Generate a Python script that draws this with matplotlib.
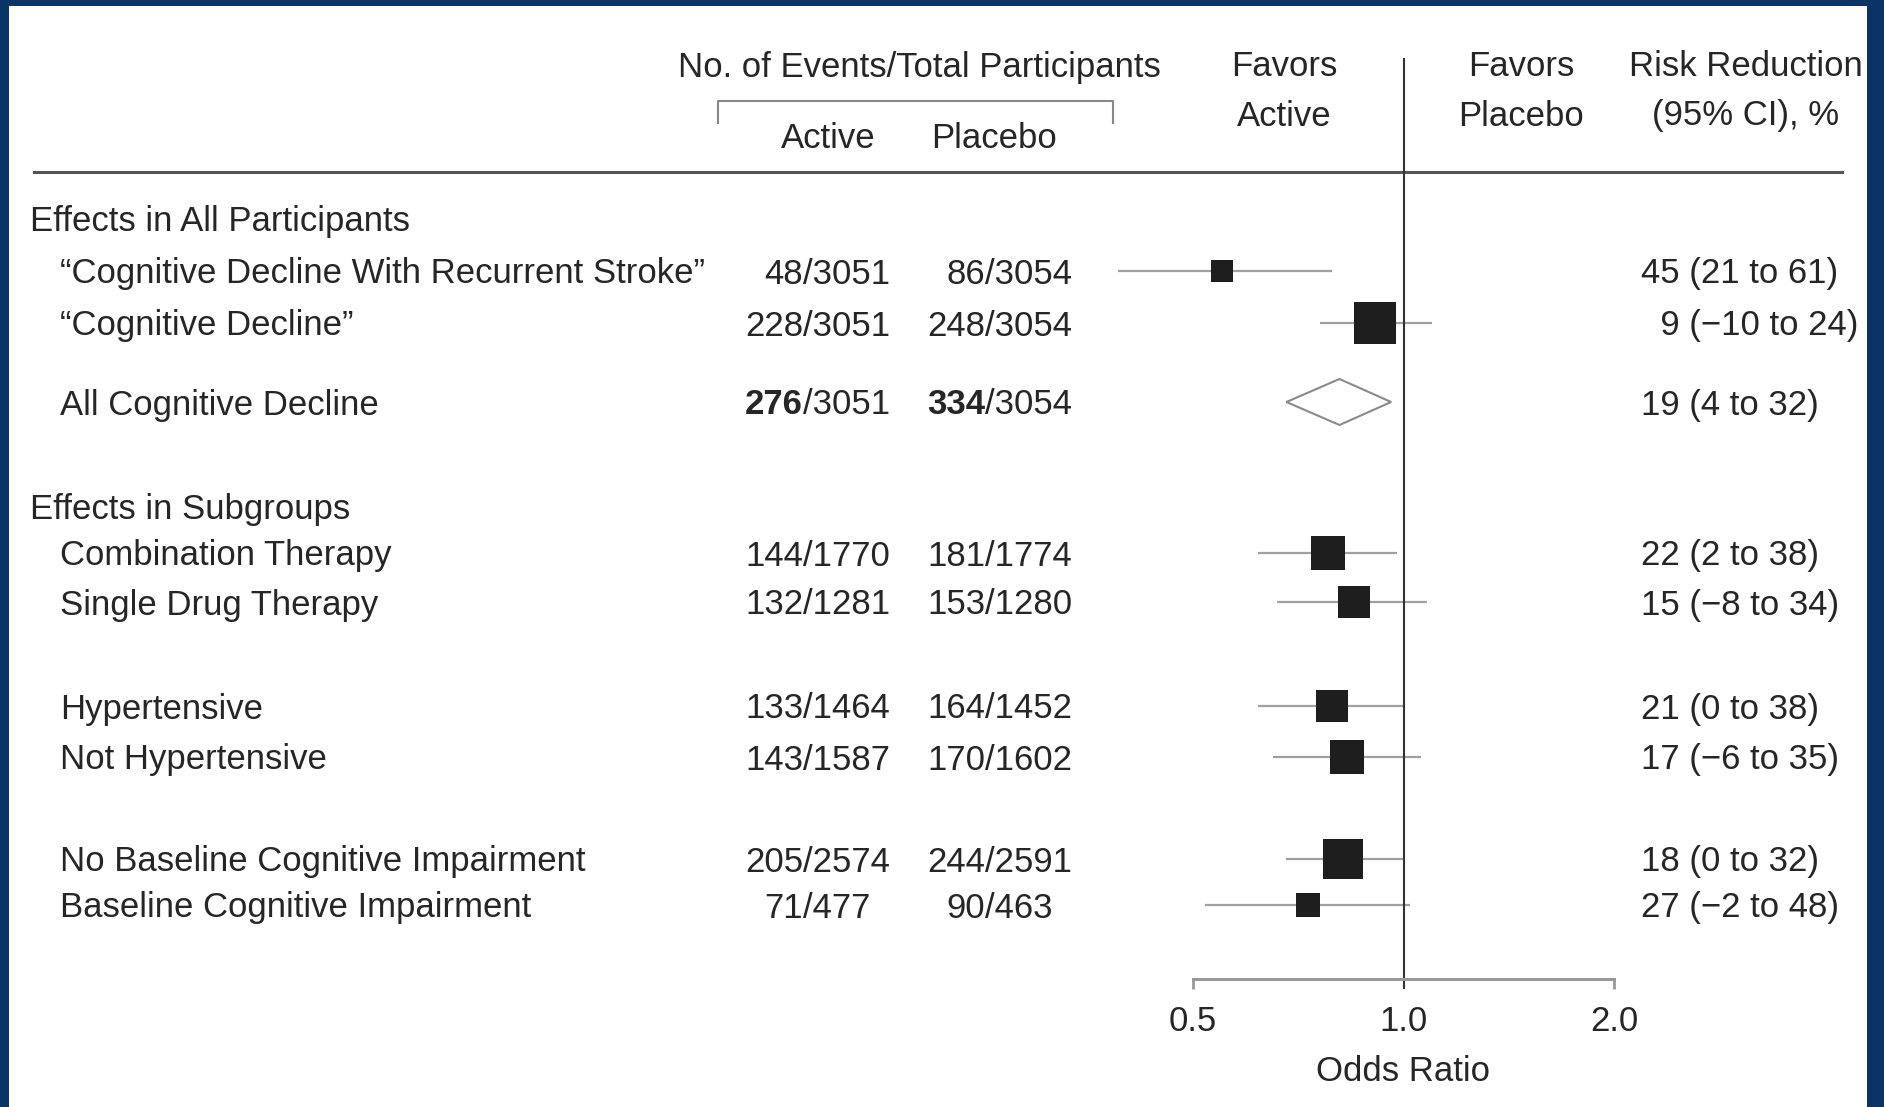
import matplotlib
matplotlib.use("Agg")
import matplotlib.pyplot as plt
from matplotlib.patches import Rectangle
from matplotlib.ticker import NullLocator

plt.rcParams['font.family'] = ['Liberation Sans', 'DejaVu Sans']

# data
sections = ['Effects in All Participants', 'Effects in Subgroups']
labels = ['\u201cCognitive Decline With Recurrent Stroke\u201d',
          '\u201cCognitive Decline\u201d',
          'All Cognitive Decline',
          'Combination Therapy',
          'Single Drug Therapy',
          'Hypertensive',
          'Not Hypertensive',
          'No Baseline Cognitive Impairment',
          'Baseline Cognitive Impairment']
active_events = [48, 228, 276, 144, 132, 133, 143, 205, 71]
active_total = [3051, 3051, 3051, 1770, 1281, 1464, 1587, 2574, 477]
placebo_events = [86, 248, 334, 181, 153, 164, 170, 244, 90]
placebo_total = [3054, 3054, 3054, 1774, 1280, 1452, 1602, 2591, 463]
odds_ratio = [0.55, 0.91, 0.81, 0.78, 0.85, 0.79, 0.83, 0.82, 0.73]
ci_low = [0.39, 0.76, 0.68, 0.62, 0.66, 0.62, 0.65, 0.68, 0.52]
ci_high = [0.79, 1.10, 0.96, 0.98, 1.08, 1.00, 1.06, 1.00, 1.02]
risk_reduction = ['45 (21 to 61)', '\u20079 (\u221210 to 24)', '19 (4 to 32)',
                  '22 (2 to 38)', '15 (\u22128 to 34)', '21 (0 to 38)',
                  '17 (\u22126 to 35)', '18 (0 to 32)', '27 (\u22122 to 48)']
pooled = 2  # the diamond row
ticks = [0.5, 1.0, 2.0]
tick_labels = ['0.5', '1.0', '2.0']

# layout (pixels, y from top)
W, H = 1884, 1107
section_y = [219, 506]
row_y = [271, 323, 402, 553, 602, 706, 757, 859, 905]
axis_y = 979
fs = 25
tc = '#262626'
dy = 3  # text sits a little lower than the marks

fig = plt.figure(figsize=(W / 100, H / 100), dpi=100, facecolor='#0b3466')
fig.add_artist(Rectangle((9 / W, 0), (1867 - 9) / W, (H - 6) / H,
                         transform=fig.transFigure, facecolor='white',
                         edgecolor='none', zorder=0))

tx = fig.add_axes([0, 0, 1, 1])
tx.set_xlim(0, W)
tx.set_ylim(H, 0)
tx.axis('off')
tx.patch.set_alpha(0)


def put(x, y, s, ha='left', **kw):
    tx.text(x, y + dy, s, ha=ha, va='center', fontsize=fs, color=tc, **kw)


# header
put(919, 64, 'No. of Events/Total Participants', ha='center')
tx.plot([718, 718, 1113, 1113], [123, 101, 101, 123], color='#888888', lw=1.5)
put(828, 136, 'Active', ha='center')
put(994, 136, 'Placebo', ha='center')
put(1284, 64, 'Favors', ha='center')
put(1284, 113, 'Active', ha='center')
put(1521, 64, 'Favors', ha='center')
put(1521, 113, 'Placebo', ha='center')
put(1746, 64, 'Risk Reduction', ha='center')
put(1746, 113, '(95% CI), %', ha='center')
tx.plot([34, 1842], [172, 172], color='#555555', lw=2.2)

for s, y in zip(sections, section_y):
    put(30, y, s)

for i, y in enumerate(row_y):
    put(60, y, labels[i])
    w = 'bold' if i == pooled else 'normal'
    put(803, y, str(active_events[i]), ha='right', fontweight=w)
    put(803, y, '/' + str(active_total[i]))
    put(985, y, str(placebo_events[i]), ha='right', fontweight=w)
    put(985, y, '/' + str(placebo_total[i]))
    put(1641, y, risk_reduction[i])

# forest panel
ax = fig.add_axes([1193 / W, (H - axis_y) / H, (1614 - 1193) / W, axis_y / H])
ax.set_xscale('log', base=2)
ax.set_xlim(0.5, 2.0)
ax.set_ylim(axis_y, 0)
ax.patch.set_alpha(0)
for sp in ['left', 'right', 'top']:
    ax.spines[sp].set_visible(False)
ax.spines['bottom'].set_color('#9a9a9a')
ax.spines['bottom'].set_linewidth(2.2)
ax.set_yticks([])
ax.xaxis.set_minor_locator(NullLocator())
ax.set_xticks(ticks)
ax.set_xticklabels(tick_labels)
ax.tick_params(axis='x', length=7, width=2.0, color='#9a9a9a', pad=12,
               labelsize=fs, labelcolor=tc)
ax.xaxis.get_major_ticks()[1].tick1line.set_visible(False)
ax.set_xlabel('Odds Ratio', fontsize=fs, color=tc, labelpad=12)

ax.vlines(1.0, 58, axis_y + 10, color='#333333', lw=1.5, zorder=2, clip_on=False)

for i, y in enumerate(row_y):
    if i == pooled:
        ax.fill([ci_low[i], odds_ratio[i], ci_high[i], odds_ratio[i]],
                [y, y - 23, y, y + 23], facecolor='white',
                edgecolor='#8a8a8a', lw=1.5, clip_on=False, zorder=3)
        continue
    ax.hlines(y, ci_low[i], ci_high[i], color='#a0a0a0', lw=1.6, clip_on=False, zorder=1)
    n = active_events[i] + placebo_events[i]
    side = 1.88 * n ** 0.5 * 0.72
    ax.plot(odds_ratio[i], y, marker='s', ms=side, mew=0, color='#1e1e1e',
            clip_on=False, zorder=3)

fig.savefig('out.png', dpi=100, facecolor=fig.get_facecolor())
